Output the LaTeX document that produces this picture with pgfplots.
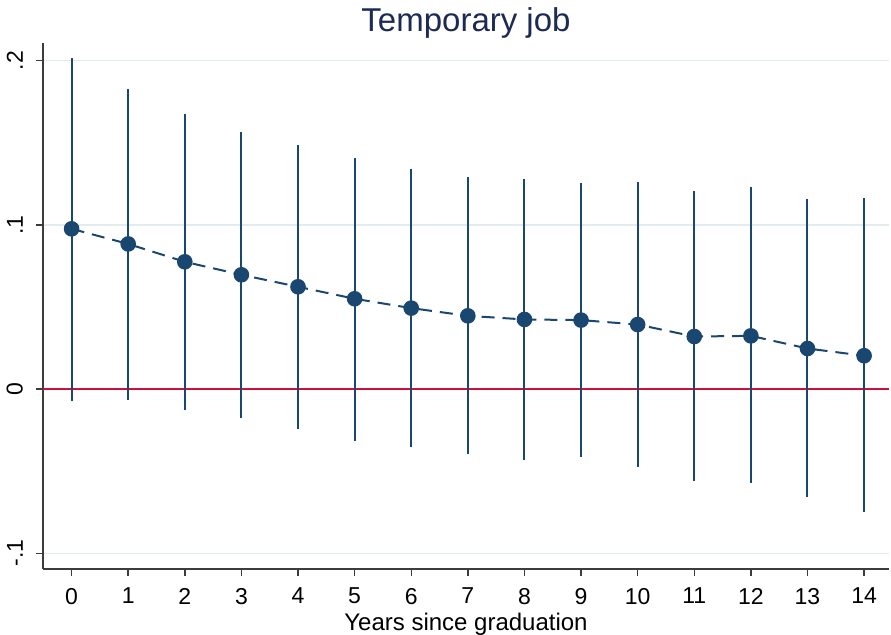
\documentclass[border=0pt]{standalone}
\usepackage{pgfplots}
\pgfplotsset{compat=1.18}
\usepackage{pgfplotstable}
\usepackage{fontspec}
\setmainfont{Liberation Sans}
\definecolor{statanavy}{RGB}{26,71,111}
\definecolor{titlenavy}{RGB}{28,42,84}
\definecolor{zeroline}{RGB}{204,16,58}
\definecolor{gridc}{RGB}{224,236,238}
\definecolor{axc}{RGB}{60,60,60}
\pgfplotstableread{
x y lo hi
0 0.0976 -0.0075 0.2016
1 0.0884 -0.0065 0.1828
2 0.0775 -0.0130 0.1676
3 0.0696 -0.0175 0.1566
4 0.0623 -0.0242 0.1487
5 0.0550 -0.0315 0.1408
6 0.0493 -0.0353 0.1341
7 0.0446 -0.0398 0.1292
8 0.0424 -0.0435 0.1280
9 0.0420 -0.0412 0.1256
10 0.0393 -0.0477 0.1262
11 0.0320 -0.0560 0.1207
12 0.0324 -0.0574 0.1231
13 0.0247 -0.0657 0.1159
14 0.0203 -0.0751 0.1164
}\datatable
\begin{document}
\begin{tikzpicture}
\useasboundingbox (-21.5pt,-33pt) rectangle (424pt,284.5pt);
\begin{axis}[
  at={(0,0)}, anchor=south west,
  scale only axis, width=423pt, height=263pt,
  xmin=-0.505, xmax=14.44, ymin=-0.1096, ymax=0.2108,
  axis x line*=bottom, axis y line*=left,
  axis line style={axc, line width=0.8pt},
  tick style={axc, line width=0.7pt},
  tick align=outside, major tick length=3.5pt,
  xtick={0,...,14},
  ytick={-0.1,0,0.1,0.2},
  yticklabels={-.1,0,.1,.2},
  yticklabel style={rotate=90, anchor=south, yshift=3pt, font=\fontsize{11.5}{12}\selectfont},
  xticklabel style={font=\fontsize{11.5}{12}\selectfont, yshift=-2.5pt},
  /pgf/number format/assume math mode=true,
  ymajorgrids, grid style={gridc, line width=0.7pt},
  xlabel={Years since graduation},
  xlabel style={font=\fontsize{12}{13}\selectfont, yshift=2.5pt},
  title={Temporary job},
  title style={font=\fontsize{16.5}{18}\selectfont, color=titlenavy, yshift=-7pt},
  clip=false,
]
\addplot[zeroline, line width=0.9pt] coordinates {(-0.505,0) (14.44,0)};
\addplot[draw=none, mark=none,
  error bars/.cd, y dir=both, y explicit, error mark=none,
  error bar style={statanavy, line width=1pt}]
  table[x=x, y=y, y error plus expr=\thisrow{hi}-\thisrow{y}, y error minus expr=\thisrow{y}-\thisrow{lo}] {\datatable};
\addplot[statanavy, line width=1pt, dash pattern=on 6.5pt off 4pt,
  mark=*, mark size=3.4pt, mark options={solid, fill=statanavy, draw=statanavy}]
  table[x=x, y=y] {\datatable};
\end{axis}
\end{tikzpicture}
\end{document}
